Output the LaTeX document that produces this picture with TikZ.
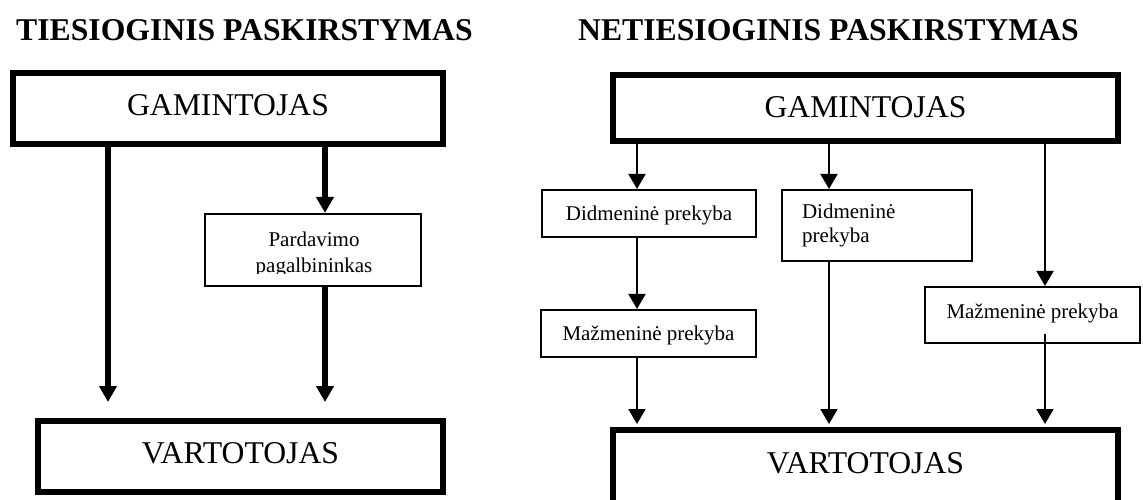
\documentclass[tikz,border=0pt]{standalone}
\usepackage{fontspec}
\setmainfont{Liberation Serif}
\usetikzlibrary{arrows.meta}
\begin{document}
\begin{tikzpicture}[x=1pt,y=-1pt,
  bigbox/.style={draw,line width=6pt,inner sep=0pt,font=\fontsize{31.7}{38}\selectfont,text height=21pt},
  smallbox/.style={draw,line width=1.6pt,inner sep=0pt,font=\fontsize{21}{24}\selectfont},
  thickarrow/.style={line width=6pt,-{Triangle[width=17pt,length=16pt]}},
  thinarrow/.style={line width=2pt,-{Triangle[width=17pt,length=15pt]}},
  titletext/.style={anchor=base west,inner sep=0pt,font=\fontsize{31.7}{38}\selectfont\bfseries}]
\useasboundingbox (0,0) rectangle (1143,499);
% titles
\node[titletext] (t1) at (16,40) {TIESIOGINIS PASKIRSTYMAS};
\node[titletext] (t2) at (578,40) {NETIESIOGINIS PASKIRSTYMAS};
% left diagram
\node[bigbox,minimum width=430pt,minimum height=71pt,text depth=8pt] (gaml) at (228,108.5) {GAMINTOJAS};
\node[bigbox,minimum width=405pt,minimum height=71pt,text depth=8pt] (vartl) at (240.5,456.5) {VARTOTOJAS};
\node[smallbox,minimum width=216.5pt,minimum height=72.5pt] (pard) at (313,250) {};
\begin{scope}
\clip (204,213) rectangle (422,273.5);
\node[align=center,inner sep=0pt,font=\fontsize{21}{26}\selectfont] (pardtext) at (314,254) {Pardavimo\\pagalbininkas};
\end{scope}
% right diagram
\node[bigbox,minimum width=505pt,minimum height=66pt,text depth=3pt] (gamr) at (865.5,108) {GAMINTOJAS};
\node[bigbox,minimum width=505pt,minimum height=90pt,text depth=25pt] (vartr) at (865.5,475) {VARTOTOJAS};
\node[smallbox,minimum width=214.5pt,minimum height=47.5pt,text height=14pt,text depth=0pt] (didm1) at (649,213.5) {Didmeninė prekyba};
\node[smallbox,minimum width=190.5pt,minimum height=71.5pt,text width=150pt,align=left] (didm2) at (877,225.5) {Didmeninė\\prekyba};
\node[smallbox,minimum width=215.5pt,minimum height=47.5pt,text height=14pt,text depth=0pt] (maz1) at (648.5,333.5) {Mažmeninė prekyba};
\node[smallbox,minimum width=215.5pt,minimum height=56.5pt,text height=14pt,text depth=7pt] (maz2) at (1032.5,315) {Mažmeninė prekyba};
% arrow columns
\coordinate (xa) at (108,0);
\coordinate (xb) at (325,0);
\coordinate (xc) at (637,0);
\coordinate (xd) at (829,0);
\coordinate (xe) at (1045,0);
\coordinate (m2s) at ([yshift=10pt]maz2.south);
% left arrows
\draw[thickarrow,shorten >=16pt] (gaml.south -| xa) -- (vartl.north -| xa);
\draw[thickarrow] (gaml.south -| xb) -- (pard.north -| xb);
\draw[thickarrow,shorten >=16pt] (pard.south -| xb) -- (vartl.north -| xb);
% right arrows
\draw[thinarrow] (gamr.south -| xc) -- (didm1.north -| xc);
\draw[thinarrow] (didm1.south -| xc) -- (maz1.north -| xc);
\draw[thinarrow,shorten >=3pt] (maz1.south -| xc) -- (vartr.north -| xc);
\draw[thinarrow] (gamr.south -| xd) -- (didm2.north -| xd);
\draw[thinarrow,shorten >=3pt] (didm2.south -| xd) -- (vartr.north -| xd);
\draw[thinarrow] (gamr.south -| xe) -- (maz2.north -| xe);
\draw[thinarrow,shorten >=3pt] (m2s -| xe) -- (vartr.north -| xe);
\end{tikzpicture}
\end{document}
